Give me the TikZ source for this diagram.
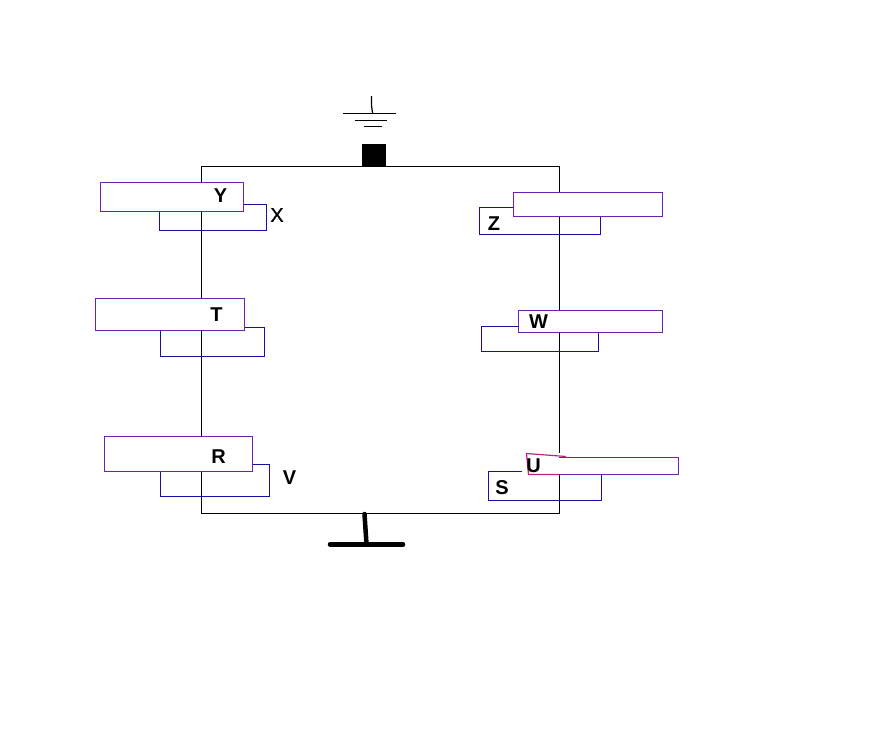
\documentclass[tikz,border=0pt]{standalone}
\usepackage{fontspec}
\setmainfont{Liberation Sans}
\newfontfamily\medfont[FakeBold=0.6]{Liberation Sans}
\definecolor{pur}{HTML}{7020B0}
\definecolor{blu}{HTML}{1810A0}
\definecolor{mag}{HTML}{C0208C}
\tikzset{
  wire/.style={draw=black,line width=1.2pt},
  bluebox/.style={draw=blu,line width=1.2pt},
  purplebox/.style={draw=pur,fill=white,line width=1.2pt},
  lab/.style={inner sep=0pt,font=\fontsize{20}{21}\selectfont\medfont,text=black},
  blab/.style={lab,font=\fontsize{20}{21}\selectfont\bfseries}
}
\begin{document}
\begin{tikzpicture}[x=1pt,y=-1pt]
\useasboundingbox (0,0) rectangle (871,739);
% frame
\draw[wire] (201.5,166.5) rectangle (559.5,513.5);
% ground symbol
\draw[wire] (371.5,96) -- (371.5,105) -- (372.5,113);
\draw[wire] (343,113.5) -- (396,113.5);
\draw[wire] (355,120.5) -- (387,120.5);
\draw[wire] (364,126.5) -- (382,126.5);
\fill[black] (362,144) rectangle (386,166);
% bottom terminal
\draw[line width=4.5pt,line cap=round] (364.5,514) -- (366.5,544);
\draw[line width=4.5pt,line cap=round] (330,544.5) -- (403,544.5);
% blue boxes
\draw[bluebox] (159.5,204.5) rectangle (266.5,230.5);
\draw[bluebox] (160.5,327.5) rectangle (264.5,356.5);
\draw[bluebox] (160.5,464.5) rectangle (269.5,496.5);
\draw[bluebox] (479.5,207.5) rectangle (600.5,234.5);
\draw[bluebox] (481.5,326.5) rectangle (598.5,351.5);
\draw[bluebox] (488.5,471.5) rectangle (601.5,500.5);
% purple boxes
\draw[purplebox] (100.5,182.5) rectangle (243.5,211.5);
\draw[purplebox] (95.5,298.5) rectangle (244.5,330.5);
\draw[purplebox] (104.5,436.5) rectangle (252.5,471.5);
\draw[purplebox] (513.5,192.5) rectangle (662.5,216.5);
\draw[purplebox] (518.5,310.5) rectangle (662.5,332.5);
% U box
\fill[white] (522,453) rectangle (678.5,474.5);
\fill[white] (522,453) rectangle (527,472);
\draw[draw=pur,line width=1.2pt] (559,457.5) -- (678.5,457.5) -- (678.5,474.5) -- (559,474.5);
\draw[draw=mag,line width=1.2pt] (559.5,474.5) -- (528.5,474.5) -- (526.5,453.5) -- (566,456.5);
% labels
\node[blab] (y) at (220.5,196) {Y};
\node[lab] (x) at (277,215) {X};
\node[blab] (t) at (216.5,315) {T};
\node[blab] (r) at (218.5,457) {R};
\node[blab] (v) at (289.5,478) {V};
\node[blab] (z) at (494,223.5) {Z};
\node[blab] (w) at (538.5,321.5) {W};
\node[blab] (u) at (533.5,466) {U};
\node[blab] (s) at (502,488) {S};
\end{tikzpicture}
\end{document}
